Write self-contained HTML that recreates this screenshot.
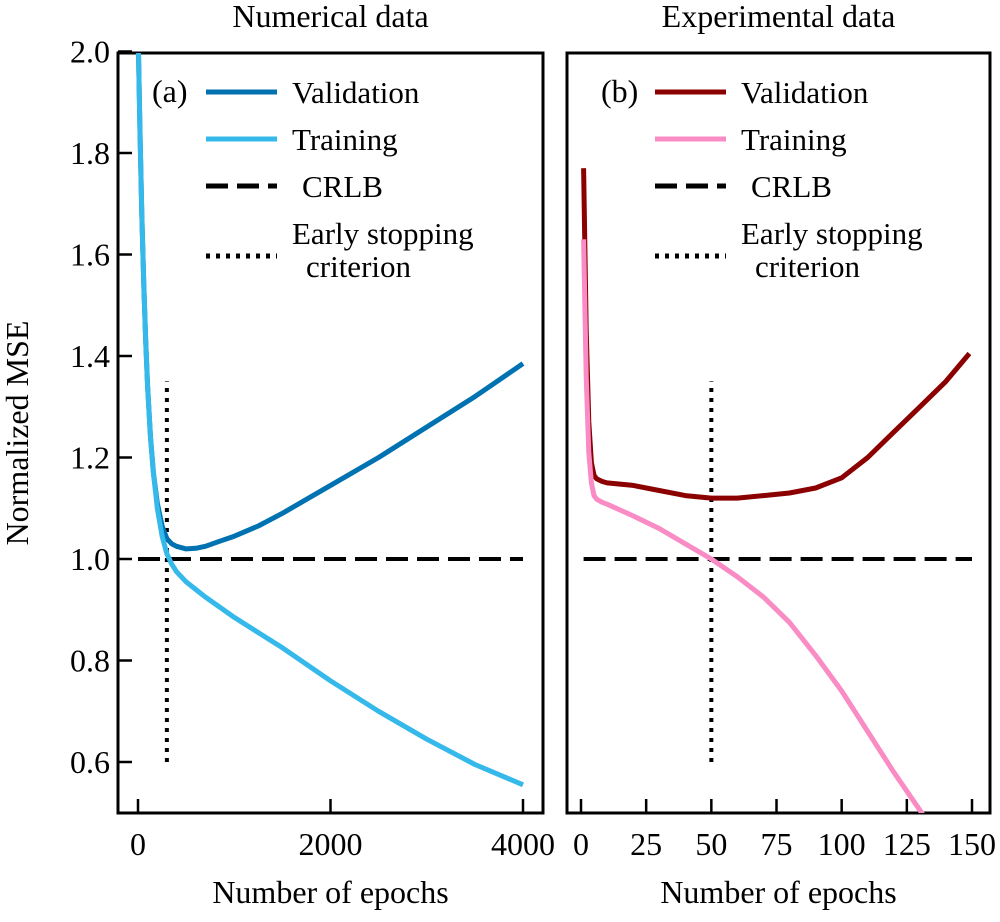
<!DOCTYPE html>
<html><head><meta charset="utf-8"><style>
body{margin:0;background:#fff}
svg text{font-family:"Liberation Serif",serif;fill:#000}
</style></head><body>
<svg width="1000" height="917" viewBox="0 0 1000 917">
<g id="root"></g>
</svg>
<script>
const yTicks=[0.6,0.8,1.0,1.2,1.4,1.6,1.8,2.0];
const yTickLabels=["0.6","0.8","1.0","1.2","1.4","1.6","1.8","2.0"];
const xTicksA=[0,2000,4000];
const xTicksB=[0,25,50,75,100,125,150];
const epochsA=[0,20,40,60,80,100,130,160,200,250,300,350,400,500,600,700,850,1000,1250,1500,2000,2500,3000,3500,4000];
const valA=[2.05,1.85,1.68,1.54,1.43,1.34,1.24,1.17,1.11,1.065,1.04,1.03,1.025,1.02,1.021,1.025,1.035,1.045,1.065,1.09,1.145,1.2,1.26,1.32,1.385];
const trainA=[2.05,1.85,1.68,1.54,1.43,1.34,1.24,1.17,1.1,1.045,1.01,0.99,0.975,0.955,0.94,0.925,0.905,0.885,0.855,0.825,0.76,0.7,0.645,0.595,0.555];
const epochsB=[1,2,3,4,5,6,8,10,20,30,40,50,60,70,80,90,100,110,120,130,140,149];
const valB=[1.77,1.45,1.27,1.19,1.165,1.158,1.153,1.15,1.145,1.135,1.125,1.12,1.12,1.125,1.13,1.14,1.16,1.2,1.25,1.3,1.35,1.405];
const trainB=[1.63,1.36,1.21,1.15,1.125,1.118,1.112,1.108,1.085,1.06,1.03,1.0,0.965,0.925,0.875,0.81,0.74,0.66,0.58,0.505,0.43,0.36];
const crlb=1.0;
const stopA=300, stopB=50;

const NS="http://www.w3.org/2000/svg";
const root=document.getElementById('root');
function el(t,a,p){const e=document.createElementNS(NS,t);for(const k in a)e.setAttribute(k,a[k]);(p||root).appendChild(e);return e;}
const yS=v=>559-(v-1)*507.5;
const xA=v=>138+v*0.09625;
const xB=v=>581+v*2.6067;
function clipRect(id,x,w){const d=el('clipPath',{id:id});el('rect',{x:x,y:53,width:w,height:760},d);}
clipRect('ca',118,425);clipRect('cb',567,423);

function panel(name,x0,x1,xs,ticks,title,tag,yt){
  const g=el('g',{});
  
  
  const f=el('rect',{x:x0,y:53,width:x1-x0,height:760,fill:'none',stroke:'#000','stroke-width':3},g);
  
  ticks.forEach(t=>{
    el('line',{x1:xs(t),x2:xs(t),y1:813,y2:799,stroke:'#000','stroke-width':2.5},g);
    const tx=el('text',{x:xs(t),y:855,'text-anchor':'middle','font-size':32},g);tx.textContent=t;
    
  });
  if(yt) yTicks.forEach(v=>el('line',{x1:x0,x2:x0+14,y1:yS(v),y2:yS(v),stroke:'#000','stroke-width':2.5},g));
  const xt=el('text',{x:(x0+x1)/2,y:903,'text-anchor':'middle','font-size':32},g);xt.textContent='Number of epochs';
  
  const tt=el('text',{x:(x0+x1)/2,y:27,'text-anchor':'middle','font-size':32},g);tt.textContent=title;
  
  const tg=el('text',{x:x0+34,y:102,'font-size':32},g);tg.textContent=tag;
  
  return g;
}
const gA=panel('panel-a',118,543,xA,xTicksA,'Numerical data','(a)',true);
const gB=panel('panel-b',567,990,xB,xTicksB,'Experimental data','(b)',false);
yTicks.forEach((v,i)=>{const t=el('text',{x:110,y:yS(v)+11,'text-anchor':'end','font-size':32});t.textContent=yTickLabels[i];
});
const yt=el('text',{x:0,y:0,'text-anchor':'middle','font-size':32,transform:'translate(28,433) rotate(-90)'});yt.textContent='Normalized MSE';


function line(g,xs,ep,vals,col,name,clip){
  const d=ep.map((e,i)=>(i?'L':'M')+xs(e).toFixed(1)+','+yS(vals[i]).toFixed(1)).join(' ');
  const p=el('path',{d:d,fill:'none',stroke:col,'stroke-width':5,'stroke-linejoin':'round','clip-path':'url(#'+clip+')'},g);
  
}
function refs(g,xs,x0,x1,stop,clip){
  const c=el('line',{x1:xs(x0),x2:xs(x1),y1:yS(crlb),y2:yS(crlb),stroke:'#000','stroke-width':4,'stroke-dasharray':'22,9'},g);
  
  const s=el('line',{x1:xs(stop),x2:xs(stop),y1:yS(0.6),y2:yS(1.35),stroke:'#000','stroke-width':4,'stroke-dasharray':'4,6'},g);
  
}
refs(gA,xA,0,4000,stopA,'ca');
line(gA,xA,epochsA,valA,'#0072b2','validation-line-a','ca');
line(gA,xA,epochsA,trainA,'#35b9ea','training-line-a','ca');
refs(gB,xB,1,150,stopB,'cb');
line(gB,xB,epochsB,valB,'#8b0000','validation-line-b','cb');
line(gB,xB,epochsB,trainB,'#f98bc5','training-line-b','cb');

function legend(g,lx,c1,c2){
  const items=[[c1,'none','Validation',92],[c2,'none','Training',139],['#000','22,9','CRLB',186]];
  items.forEach(it=>{
    const l=el('line',{x1:lx,x2:lx+71,y1:it[3],y2:it[3],stroke:it[0],'stroke-width':5,'stroke-dasharray':it[1]},g);
    
    const t=el('text',{x:lx+86+(it[2]==='CRLB'?10:0),y:it[3]+11,'font-size':31},g);t.textContent=it[2];
    
  });
  const l=el('line',{x1:lx,x2:lx+71,y1:256,y2:256,stroke:'#000','stroke-width':5,'stroke-dasharray':'4,6'},g);
  
  const t1=el('text',{x:lx+86,y:244,'font-size':31},g);t1.textContent='Early stopping';
  
  const t2=el('text',{x:lx+100,y:277,'font-size':31},g);t2.textContent='criterion';
  
}
legend(gA,206,'#0072b2','#35b9ea');
legend(gB,655,'#8b0000','#f98bc5');
</script>
</body></html>
